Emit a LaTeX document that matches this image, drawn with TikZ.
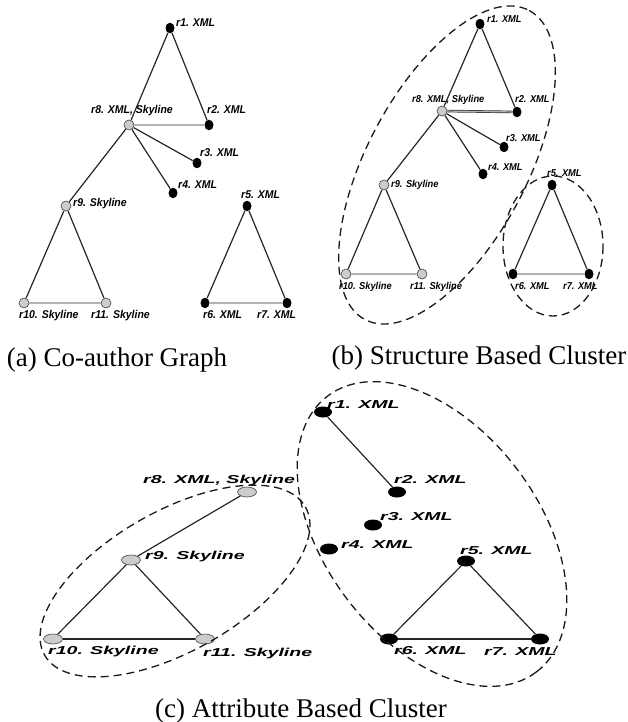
\documentclass[tikz,border=0pt]{standalone}
\usepackage{fontspec}
\setmainfont{Liberation Serif}
\newfontfamily\nodefont[FakeStretch=0.93]{Liberation Sans}
\newfontfamily\widefont[FakeStretch=1.7]{Liberation Sans}
\usetikzlibrary{shapes.geometric}

\begin{document}
\begin{tikzpicture}[x=1pt,y=-1pt,
  blk/.style={ellipse,fill=black,inner sep=0pt,minimum width=9pt,minimum height=10.5pt},
  gry/.style={ellipse,draw=black!75,fill=gray!40,line width=0.6pt,inner sep=0pt,minimum width=10pt,minimum height=10pt},
  blkw/.style={blk,minimum width=18pt,minimum height=11pt},
  gryw/.style={gry,minimum width=19pt,minimum height=10pt},
  lbla/.style={anchor=base west,inner sep=0pt,font=\nodefont\bfseries\itshape\fontsize{11.3}{12}\selectfont},
  lblb/.style={lbla,font=\nodefont\bfseries\itshape\fontsize{10}{11}\selectfont},
  lblc/.style={lbla,font=\widefont\bfseries\itshape\fontsize{11.5}{12}\selectfont},
  link/.style={line width=1.2pt,black!85},
  hlink/.style={draw=black!80,line width=0.7pt,double=gray!60,double distance=1.2pt},
  clu/.style={dash pattern=on 8pt off 5pt,line width=1.3pt,black!90},
  captxt/.style={anchor=base,inner sep=0pt,font=\fontsize{27}{30}\selectfont}]
  \useasboundingbox (0,0) rectangle (627,722);

  % (a) co-author graph
  \node[blk] (a1) at (170,28) {};
  \node[gry] (a8) at (129,125) {};
  \node[blk] (a2) at (209,125) {};
  \node[blk] (a3) at (197,163) {};
  \node[blk] (a4) at (173,193) {};
  \node[gry] (a9) at (66,206) {};
  \node[blk] (a5) at (247,206) {};
  \node[gry] (a10) at (24,303) {};
  \node[gry] (a11) at (106,303) {};
  \node[blk] (a6) at (205,303) {};
  \node[blk] (a7) at (287,303) {};
  \node[lbla] (a1l) at (176,27) {r1. XML};
  \node[lbla] (a8l) at (91,114) {r8. XML, Skyline};
  \node[lbla] (a2l) at (207,114) {r2. XML};
  \node[lbla] (a3l) at (200,157) {r3. XML};
  \node[lbla] (a4l) at (178,189) {r4. XML};
  \node[lbla] (a9l) at (73,206) {r9. Skyline};
  \node[lbla] (a5l) at (241,198) {r5. XML};
  \node[lbla] (a10l) at (19,318) {r10. Skyline};
  \node[lbla] (a11l) at (91,318) {r11. Skyline};
  \node[lbla] (a6l) at (203,318) {r6. XML};
  \node[lbla] (a7l) at (257,318) {r7. XML};

  % (b) structure based cluster
  \node[blk] (b1) at (480,24) {};
  \node[gry] (b8) at (442,111) {};
  \node[blk] (b2) at (517,112) {};
  \node[blk] (b3) at (504,147) {};
  \node[blk] (b4) at (483,174) {};
  \node[gry] (b9) at (384,185) {};
  \node[blk] (b5) at (552,185) {};
  \node[gry] (b10) at (346,274) {};
  \node[gry] (b11) at (422,274) {};
  \node[blk] (b6) at (513,274) {};
  \node[blk] (b7) at (589,274) {};
  \node[lblb] (b1l) at (487,23) {r1. XML};
  \node[lblb] (b8l) at (412,103) {r8. XML, Skyline};
  \node[lblb] (b2l) at (515,103) {r2. XML};
  \node[lblb] (b3l) at (506,142) {r3. XML};
  \node[lblb] (b4l) at (488,171) {r4. XML};
  \node[lblb] (b9l) at (391,187) {r9. Skyline};
  \node[lblb] (b5l) at (547,177) {r5. XML};
  \node[lblb] (b10l) at (339,289) {r10. Skyline};
  \node[lblb] (b11l) at (410,289) {r11. Skyline};
  \node[lblb] (b6l) at (515,289) {r6. XML};
  \node[lblb] (b7l) at (563,289) {r7. XML};

  \foreach \p in {a,b} {
    \foreach \u/\v in {1/8,1/2,8/3,8/4,8/9,9/10,9/11,5/6,5/7}
      \draw[link] (\p\u) -- (\p\v);
    \foreach \u/\v in {8/2,10/11,6/7}
      \draw[hlink] (\p\u) -- (\p\v);
  }
  \draw[clu] (447,165) ellipse [x radius=175,y radius=80,rotate=62];
  \draw[clu] (553,246) ellipse [x radius=50,y radius=70];

  % (c) attribute based cluster
  \node[blkw] (c1) at (323,412) {};
  \node[blkw] (c2) at (397,492) {};
  \node[blkw] (c3) at (373,525) {};
  \node[blkw] (c4) at (329,549) {};
  \node[blkw] (c5) at (466,561) {};
  \node[blkw] (c6) at (389,639) {};
  \node[blkw] (c7) at (540,639) {};
  \node[gryw] (c8) at (247,492) {};
  \node[gryw] (c9) at (131,560) {};
  \node[gryw] (c10) at (53,639) {};
  \node[gryw] (c11) at (205,639) {};
  \node[lblc] (c1l) at (327,408) {r1. XML};
  \node[lblc] (c2l) at (394,483) {r2. XML};
  \node[lblc] (c3l) at (380,520) {r3. XML};
  \node[lblc] (c4l) at (341,548) {r4. XML};
  \node[lblc] (c5l) at (460,554) {r5. XML};
  \node[lblc] (c6l) at (394,654) {r6. XML};
  \node[lblc] (c7l) at (484,655) {r7. XML};
  \node[lblc] (c8l) at (143,483) {r8. XML, Skyline};
  \node[lblc] (c9l) at (145,559) {r9. Skyline};
  \node[lblc] (c10l) at (48,654) {r10. Skyline};
  \node[lblc] (c11l) at (203,656) {r11. Skyline};
  \foreach \u/\v in {1/2,8/9,9/10,9/11,10/11,5/6,5/7,6/7}
    \draw[link] (c\u) -- (c\v);
  \draw[clu] (175,581) ellipse [x radius=150,y radius=70,rotate=29.6];
  \draw[clu] (432,534) ellipse [x radius=173,y radius=107,rotate=-52.9];

  % captions
  \node[captxt] (capa) at (117,366) {(a) Co-author Graph};
  \node[captxt] (capb) at (479,364) {(b) Structure Based Cluster};
  \node[captxt] (capc) at (301,717) {(c) Attribute Based Cluster};
\end{tikzpicture}
\end{document}
